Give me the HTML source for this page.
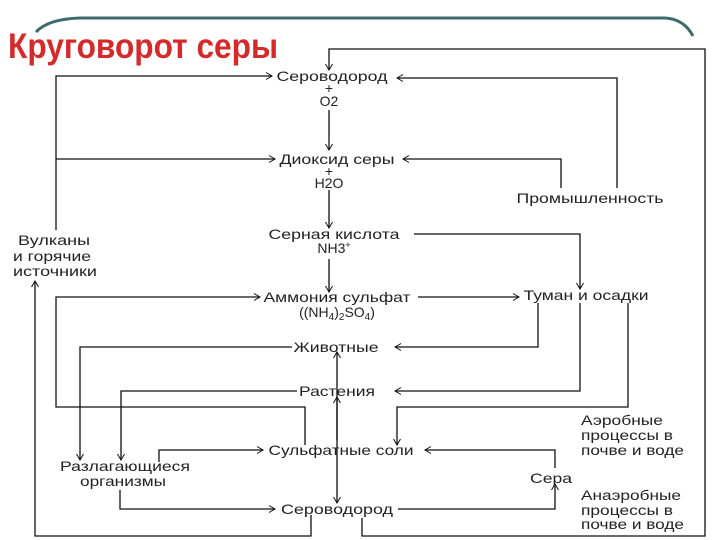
<!DOCTYPE html>
<html><head><meta charset="utf-8"><style>
html,body{margin:0;padding:0;background:#fff;}
svg{display:block}
text{font-family:"Liberation Sans",sans-serif;font-size:14px;fill:#222}
</style></head><body>
<svg width="720" height="540" viewBox="0 0 720 540" xmlns="http://www.w3.org/2000/svg">
<defs>
<marker id="a" markerWidth="8" markerHeight="8" refX="7" refY="4" orient="auto" markerUnits="userSpaceOnUse">
<path d="M1,0.5 L7,4 L1,7.5" fill="none" stroke="#111" stroke-width="1"/>
</marker>
</defs>
<path d="M36,32 Q48,19 80,18 L665,18 Q684,19 693,36" fill="none" stroke="#3d6a6a" stroke-width="3"/>
<text x="8" y="58" style="font-size:35px;font-weight:bold;fill:#d42a2a" textLength="270" lengthAdjust="spacingAndGlyphs">Круговорот серы</text>
<g fill="none" stroke="#111" stroke-width="1.3">
<path d="M362,518 L362,536 L705,536 L705,49 L329,49 L329,70" marker-end="url(#a)"/>
<path d="M56,230 L56,76 L272,76" marker-end="url(#a)"/>
<path d="M56,159 L275,159" marker-end="url(#a)"/>
<path d="M617,188 L617,78 L397,78" marker-end="url(#a)"/>
<path d="M561,188 L561,159 L403,159" marker-end="url(#a)"/>
<path d="M329,110 L329,150" marker-end="url(#a)"/>
<path d="M329,190 L329,228" marker-end="url(#a)"/>
<path d="M329,259 L329,292" marker-end="url(#a)"/>
<path d="M414,234 L580,234 L580,289" marker-end="url(#a)"/>
<path d="M418,297 L519,297" marker-end="url(#a)"/>
<path d="M305,445 L305,407 L56,407 L56,297 L260,297" marker-end="url(#a)"/>
<path d="M538,303 L538,347 L395,347" marker-end="url(#a)"/>
<path d="M580,303 L580,391 L395,391" marker-end="url(#a)"/>
<path d="M628,303 L628,407 L397,407 L397,445" marker-end="url(#a)"/>
<path d="M292,347 L80,347 L80,460" marker-end="url(#a)"/>
<path d="M297,391 L121,391 L121,460" marker-end="url(#a)"/>
<path d="M337,440 L337,352" marker-end="url(#a)"/>
<path d="M337,440 L337,397" marker-end="url(#a)"/>
<path d="M337,440 L337,503" marker-end="url(#a)"/>
<path d="M159,462 L159,450 L263,450" marker-end="url(#a)"/>
<path d="M120,490 L120,509 L275,509" marker-end="url(#a)"/>
<path d="M398,509 L555,509 L555,484" marker-end="url(#a)"/>
<path d="M555,468 L555,450 L425,450" marker-end="url(#a)"/>
<path d="M311,515 L311,536 L35,536 L35,281" marker-end="url(#a)"/>
</g>
<g text-anchor="middle">
<text x="332" y="81" textLength="111" lengthAdjust="spacingAndGlyphs">Сероводород</text>
<text x="329" y="93">+</text>
<text x="329" y="106">O2</text>
<text x="337" y="164" textLength="115" lengthAdjust="spacingAndGlyphs">Диоксид серы</text>
<text x="329" y="176">+</text>
<text x="329" y="188">H2O</text>
<text x="334" y="239" textLength="131" lengthAdjust="spacingAndGlyphs">Серная кислота</text>
<text x="334" y="253">NH3<tspan dy="-5" style="font-size:9px">+</tspan></text>
<text x="337" y="302" textLength="147" lengthAdjust="spacingAndGlyphs">Аммония сульфат</text>
<text x="337" y="317">((NH<tspan dy="3" style="font-size:10px">4</tspan><tspan dy="-3">)</tspan><tspan dy="3" style="font-size:10px">2</tspan><tspan dy="-3">SO</tspan><tspan dy="3" style="font-size:10px">4</tspan><tspan dy="-3">)</tspan></text>
<text x="586" y="300" textLength="125" lengthAdjust="spacingAndGlyphs">Туман и осадки</text>
<text x="590" y="203" textLength="147" lengthAdjust="spacingAndGlyphs">Промышленность</text>
<text x="336" y="352" textLength="85" lengthAdjust="spacingAndGlyphs">Животные</text>
<text x="337" y="396" textLength="76" lengthAdjust="spacingAndGlyphs">Растения</text>
<text x="341" y="455" textLength="145" lengthAdjust="spacingAndGlyphs">Сульфатные соли</text>
<text x="125" y="471" textLength="130" lengthAdjust="spacingAndGlyphs">Разлагающиеся</text>
<text x="123" y="486" textLength="86" lengthAdjust="spacingAndGlyphs">организмы</text>
<text x="337" y="514" textLength="112" lengthAdjust="spacingAndGlyphs">Сероводород</text>
<text x="551" y="483" textLength="42" lengthAdjust="spacingAndGlyphs">Сера</text>
</g>
<g>
<text x="18" y="245" textLength="72" lengthAdjust="spacingAndGlyphs">Вулканы</text>
<text x="13" y="261" textLength="78" lengthAdjust="spacingAndGlyphs">и горячие</text>
<text x="13" y="276" textLength="84" lengthAdjust="spacingAndGlyphs">источники</text>
<text x="581" y="425" textLength="82" lengthAdjust="spacingAndGlyphs">Аэробные</text>
<text x="581" y="440" textLength="92" lengthAdjust="spacingAndGlyphs">процессы в</text>
<text x="581" y="455" textLength="103" lengthAdjust="spacingAndGlyphs">почве и воде</text>
<text x="581" y="500" textLength="100" lengthAdjust="spacingAndGlyphs">Анаэробные</text>
<text x="581" y="515" textLength="92" lengthAdjust="spacingAndGlyphs">процессы в</text>
<text x="581" y="529" textLength="103" lengthAdjust="spacingAndGlyphs">почве и воде</text>
</g>
</svg>
</body></html>
